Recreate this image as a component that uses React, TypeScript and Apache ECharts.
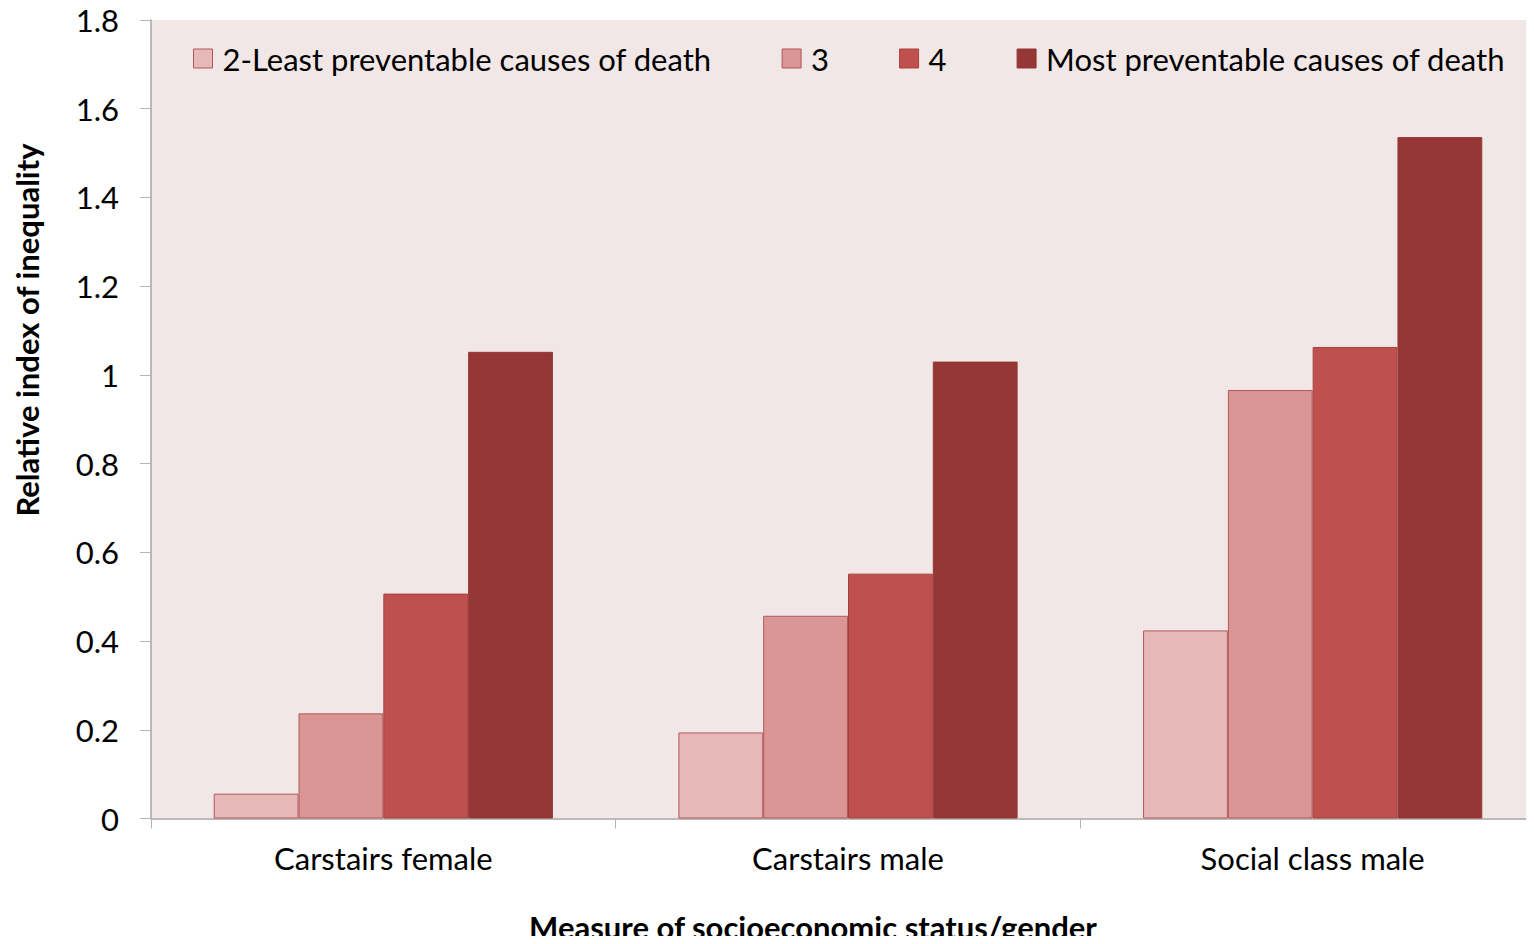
import React, { useEffect, useRef } from "react";
import * as echarts from "echarts";

const categories = ["Carstairs female", "Carstairs male", "Social class male"];
const seriesNames = ["2-Least preventable causes of death", "3", "4", "Most preventable causes of death"];
const least = [0.056, 0.194, 0.424];
const s3 = [0.237, 0.457, 0.966];
const s4 = [0.507, 0.552, 1.063];
const most = [1.052, 1.030, 1.536];
const colors = ["#E6B8B7", "#DA9694", "#C0504D", "#953735"];
const borders = ["#B2575A", "#B2575A", "#A6403D", "#953735"];
const yTicks = [0, 0.2, 0.4, 0.6, 0.8, 1, 1.2, 1.4, 1.6, 1.8];

const FONT = "Lato, 'Open Sans', sans-serif";
const FS = 31;

export default function App() {
  const ref = useRef<HTMLDivElement>(null);
  useEffect(() => {
    const chart = echarts.init(ref.current!, null, { renderer: "svg" });
    const data = [least, s3, s4, most];
    chart.setOption({
      animation: false,
      textStyle: { fontFamily: FONT },
      grid: {
        left: 151,
        right: 15,
        top: 20,
        bottom: 125.5,
        show: true,
        backgroundColor: "#F2E7E7",
        borderWidth: 0,
        containLabel: false,
      },
      legend: {
        left: 188,
        top: 38,
        itemWidth: 19,
        itemHeight: 19,
        itemGap: 70,
        formatter: (n: string) => `{t|${n}}`,
        textStyle: {
          fontSize: FS,
          color: "#000",
          fontFamily: FONT,
          rich: { t: { fontSize: FS, color: "#000", fontFamily: FONT, padding: [0, 0, 0, 5] } },
        },
        data: seriesNames.map((n, i) => ({
          name: n,
          icon: "rect",
          itemStyle: { color: colors[i], borderColor: borders[i], borderWidth: 1 },
        })),
      },
      xAxis: {
        type: "category",
        data: categories,
        axisLine: { lineStyle: { color: "#A6A6A6", width: 1.5 } },
        axisTick: { show: true, length: 10, lineStyle: { color: "#B5B5B5" } },
        axisLabel: { fontSize: FS, color: "#000", margin: 24, fontFamily: FONT },
      },
      yAxis: {
        type: "value",
        min: 0,
        max: 1.8,
        interval: 0.2,
        axisLine: { show: true, lineStyle: { color: "#A6A6A6", width: 1.5 } },
        axisTick: { show: true, length: 11, lineStyle: { color: "#B5B5B5" } },
        splitLine: { show: false },
        axisLabel: {
          fontSize: FS,
          color: "#000",
          margin: 32,
          fontFamily: FONT,
          formatter: (v: number) => {
            const t = yTicks.find((x) => Math.abs(x - v) < 1e-6);
            return t === undefined ? "" : String(t);
          },
        },
      },
      series: seriesNames.map((n, i) => ({
        name: n,
        type: "bar",
        data: data[i],
        barGap: "0%",
        barCategoryGap: "27%",
        itemStyle: { color: colors[i], borderColor: borders[i], borderWidth: 1 },
      })),
      graphic: [
        {
          type: "text",
          x: 27,
          y: 330,
          rotation: Math.PI / 2,
          style: {
            text: "Relative index of inequality",
            fontSize: FS,
            fontWeight: "bold",
            fontFamily: FONT,
            fill: "#000",
            align: "center",
            verticalAlign: "middle",
          },
        },
        {
          type: "text",
          x: 813,
          y: 927,
          style: {
            text: "Measure of socioeconomic status/gender",
            fontSize: FS,
            fontWeight: "bold",
            fontFamily: FONT,
            fill: "#000",
            align: "center",
            verticalAlign: "middle",
          },
        },
      ],
    });
    return () => chart.dispose();
  }, []);
  return (
    <div style={{ width: 1534, height: 944, margin: -8, overflow: "hidden", position: "relative" }}>
      <div ref={ref} style={{ width: 1560, height: 944 }} />
    </div>
  );
}
